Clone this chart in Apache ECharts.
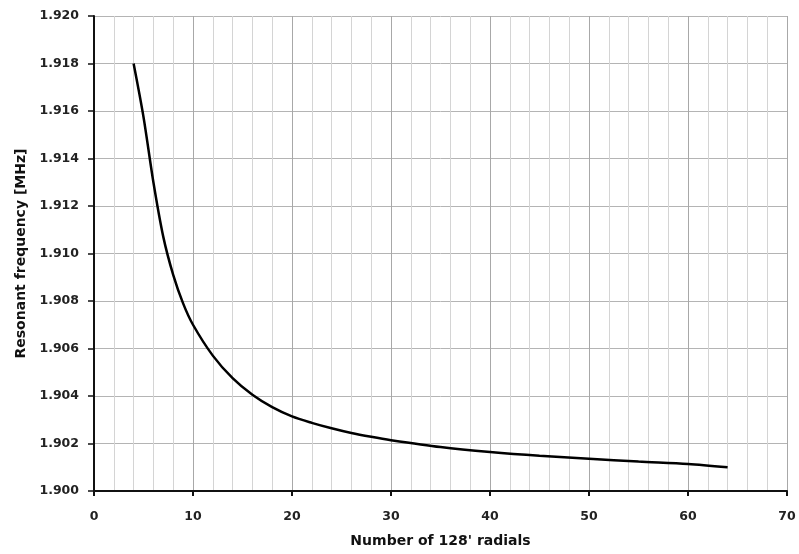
<!DOCTYPE html>
<html>
<head>
<meta charset="utf-8">
<script src="https://cdn.jsdelivr.net/npm/echarts@6/dist/echarts.min.js"></script>
<style>
html,body{margin:0;padding:0;background:#fff;}
#chart{width:799px;height:554px;}
</style>
</head>
<body>
<div id="chart"></div>
<script>
var radials = [4, 5, 6, 7, 8, 9, 10, 12, 14, 16, 18, 20, 22, 24, 26, 28, 30, 35, 40, 45, 50, 55, 60, 64];
var frequency = [1.9180, 1.91575, 1.9130, 1.9107, 1.9091, 1.9079, 1.9070, 1.90570, 1.90475, 1.90405, 1.90353, 1.90314, 1.90287, 1.90264, 1.90244, 1.90228, 1.90214, 1.90185, 1.90164, 1.90148, 1.90136, 1.90124, 1.90114, 1.90100];
var xTitle = "Number of 128' radials";
var yTitle = "Resonant frequency [MHz]";

var font = '"DejaVu Sans", sans-serif';
var chart = echarts.init(document.getElementById('chart'));
chart.setOption({
  animation: false,
  grid: {left: 94, right: 12, top: 16, bottom: 63, outerBoundsMode: 'none', containLabel: false},
  xAxis: {
    type: 'value', min: 0, max: 70, interval: 10,
    name: xTitle, nameLocation: 'middle', nameGap: 43,
    nameTextStyle: {fontFamily: font, fontWeight: 'bold', fontSize: 14, color: '#111'},
    axisLine: {lineStyle: {color: '#111', width: 2}},
    axisTick: {show: true, inside: false, length: 5, lineStyle: {color: '#111', width: 2}},
    axisLabel: {fontFamily: font, fontWeight: 'bold', fontSize: 12.5, color: '#222', margin: 19},
    splitLine: {show: true, lineStyle: {color: '#a8a8a8', width: 1}},
    minorTick: {show: false, splitNumber: 5},
    minorSplitLine: {show: true, lineStyle: {color: '#d4d4d4', width: 1}}
  },
  yAxis: {
    type: 'value', min: 1.900, max: 1.920, interval: 0.002,
    name: yTitle, nameLocation: 'middle', nameGap: 66, nameRotate: 90,
    nameTextStyle: {fontFamily: font, fontWeight: 'bold', fontSize: 14, color: '#111'},
    axisLine: {show: true, lineStyle: {color: '#111', width: 2}},
    axisTick: {show: true, inside: false, length: 6, lineStyle: {color: '#111', width: 1.5}},
    axisLabel: {fontFamily: font, fontWeight: 'bold', fontSize: 12.5, color: '#222', margin: 15,
      formatter: function (v) { return v.toFixed(3); }},
    splitLine: {show: true, lineStyle: {color: '#b4b4b4', width: 1}}
  },
  series: [{
    type: 'line',
    data: radials.map(function (x, i) { return [x, frequency[i]]; }),
    smooth: 0.3,
    showSymbol: false,
    lineStyle: {color: '#000', width: 2.5}
  }]
});
</script>
</body>
</html>
